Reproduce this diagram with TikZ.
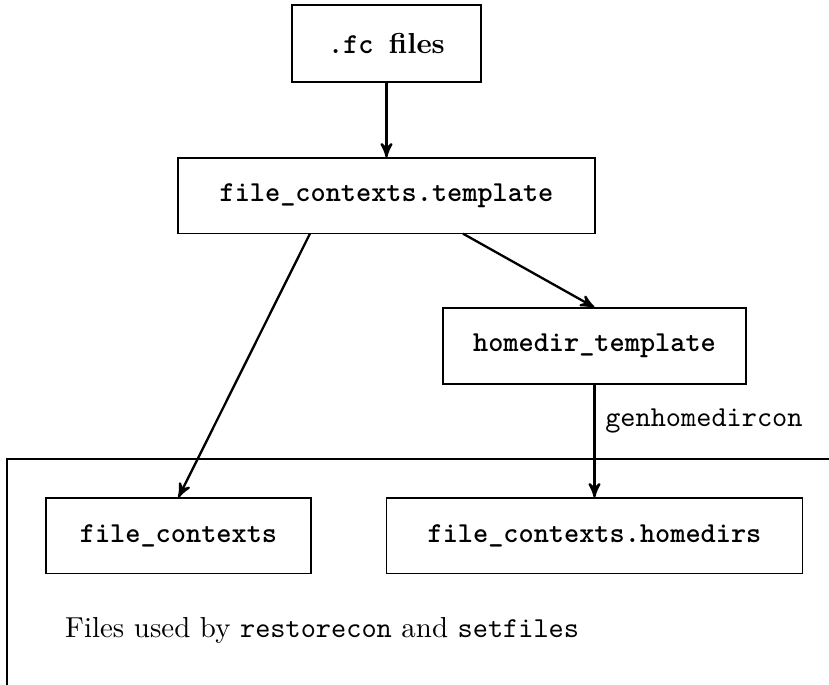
\documentclass[tikz,border=0pt]{standalone}
\usetikzlibrary{arrows,calc}
\tikzset{
  filebox/.style={draw,thin,inner sep=0pt,minimum height=26pt,font=\ttfamily\bfseries},
  flow/.style={-stealth',thick},
}
\begin{document}
\begin{tikzpicture}[x=0.346pt,y=-0.346pt]
  \useasboundingbox (0,0) rectangle (829,684);
  \clip (0,0) rectangle (829,684);
  % frame round the installed files, cut by the page
  \draw[thin] (7,459) rectangle (900,760);
  \node[filebox,minimum width=65.4pt,minimum height=26.6pt] (fc) at (386.5,43.5) {.fc {\rmfamily files}};
  \node[filebox,minimum width=144.3pt] (tmpl) at (386.5,195.5) {file\_contexts.template};
  \node[filebox,minimum width=104.8pt,minimum height=26.3pt] (homedir) at (594.5,346) {homedir\_template};
  \node[filebox,minimum width=91.7pt] (fctx) at (178.5,535.5) {file\_contexts};
  \node[filebox,minimum width=143.9pt] (homedirs) at (594.5,535.5) {file\_contexts.homedirs};
  \node[anchor=west] (usedby) at (55,630) {Files used by \texttt{restorecon} and \texttt{setfiles}};
  \draw[flow] (fc) -- (tmpl);
  \draw[flow] ($(tmpl.south west)!0.317!(tmpl.south east)$) -- (fctx.north);
  \draw[flow] ($(tmpl.south west)!0.683!(tmpl.south east)$) -- (homedir.north);
  \draw[flow] (homedir) -- node[pos=0.32,right,font=\ttfamily] {genhomedircon} (homedirs);
\end{tikzpicture}
\end{document}
